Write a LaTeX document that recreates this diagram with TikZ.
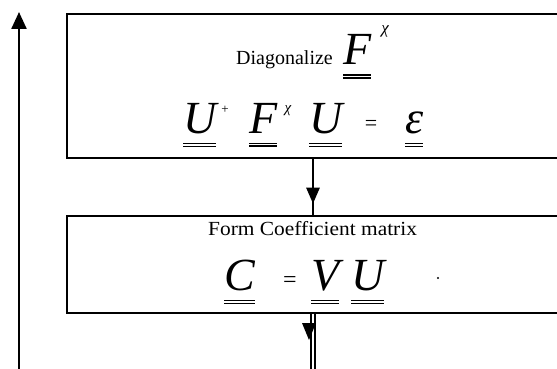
\documentclass[tikz,border=0pt]{standalone}
\usepackage{fontspec}
\setmainfont{Liberation Serif}
\usepackage{graphicx}
\usetikzlibrary{arrows.meta,decorations.markings}
\newcommand\dul[1]{\vtop{\hbox{#1}\kern9.5pt\hrule height1.3pt\kern1.6pt\hrule height1.3pt}}
\tikzset{
  boxed/.style={draw, line width=1.6pt, rectangle, inner sep=0pt, anchor=north west},
  sym/.style={inner sep=0pt, anchor=base west, font=\fontsize{46}{46}\selectfont\itshape},
  supx/.style={inner sep=0pt, anchor=center, font=\fontsize{15}{15}\selectfont\itshape},
  eqs/.style={inner sep=0pt, anchor=center, font=\fontsize{22}{22}\selectfont},
  lbl/.style={inner sep=0pt, font=\fontsize{20}{24}\selectfont},
  conn/.style={line width=2.6pt},
}
\begin{document}
\begin{tikzpicture}[x=1pt,y=-1pt]
\useasboundingbox (0,0) rectangle (557,369);
\clip (0,0) rectangle (557,369);
% boxes
\node[boxed, minimum width=510pt, minimum height=144pt] (b1) at (66,13) {};
\node[boxed, minimum width=510pt, minimum height=97pt] (b2) at (66,215) {};
% row 1
\node[lbl, anchor=base east] (diag) at (333,65) {Diagonalize};
\node[sym] (f1) at (343,65) {\dul{F}};
\node[supx, font=\fontsize{17}{17}\selectfont\itshape] (chi1) at (385,31) {χ};
% row 2
\node[sym] (u1) at (183,133) {\dul{U}};
\node[supx, font=\fontsize{13}{13}\selectfont] (plus) at (225,110) {+};
\node[sym] (f2) at (249,133) {\dul{F}};
\node[supx] (chi2) at (288,111) {χ};
\node[sym] (u2) at (309,133) {\dul{U}};
\node[eqs] (eq1) at (371,125) {=};
\node[sym] (eps) at (405,133) {\dul{ε}};
% row 3
\node[lbl, anchor=base west] (form) at (208,235) {\scalebox{1.07}[1]{Form Coefficient matrix}};
\node[sym] (c) at (224,290) {\dul{C}};
\node[eqs, font=\fontsize{24}{24}\selectfont] (eq2) at (290,282) {=};
\node[sym] (v) at (311,290) {\dul{V}};
\node[sym] (u3) at (351,290) {\dul{U}};
\node[circle, fill, inner sep=0pt, minimum size=2.4pt] (dot) at (438,278) {};
% connectors
\coordinate (cx) at (313,0);
\coordinate (bot) at (313,369);
\coordinate (lb) at (19,369);
\coordinate (lt) at (19,12);
\draw[line width=2.4pt, -{Triangle[length=17pt,width=15pt]}] (lb) -- (lt);
\draw[conn, postaction={decorate, decoration={markings, mark=at position 0.8 with {\arrow{Triangle[length=16pt,width=13pt]}}}}] (cx |- b1.south) -- (cx |- b2.north);
\draw[line width=1.8pt, double, double distance=2.8pt] (cx |- b2.south) -- (bot);
\coordinate (tip2) at (309,340);
\fill (tip2) -- ++(-7,-17) -- ++(14,0) -- cycle;
\end{tikzpicture}
\end{document}
